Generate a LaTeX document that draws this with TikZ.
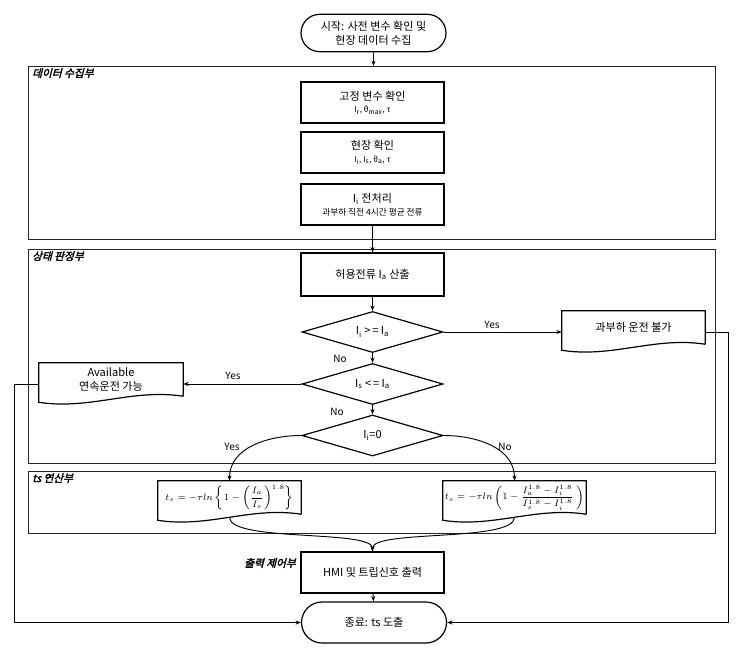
\documentclass[tikz,border=0pt]{standalone}
\usepackage{fontspec}
\setmainfont{Noto Sans CJK KR}
\newfontfamily\grpfont[FakeSlant=0.25,FakeBold=2.5]{Noto Sans CJK KR}
\usetikzlibrary{shapes.geometric,shapes.misc,arrows.meta,calc}
\newcommand{\docwave}[1]{%
  \draw[docline] (#1.south east) -- (#1.north east) -- (#1.north west) -- ([yshift=-4.5pt]#1.south west)
   .. controls ($(#1.south west)!0.35!(#1.south east)+(0,14)$) and ($(#1.south west)!0.65!(#1.south east)+(0,-8)$) .. (#1.south east);}
\begin{document}
\begin{tikzpicture}[x=0.75pt,y=-0.75pt,
  base/.style={font=\fontsize{8.3}{10.5}\selectfont, align=center, inner sep=0pt},
  proc/.style={base, draw, line width=0.9pt, rectangle, minimum width=107.25pt, minimum height=30.75pt},
  term/.style={base, draw, line width=0.9pt, rounded rectangle, minimum width=108.75pt, minimum height=28pt},
  dec/.style={base, draw, line width=0.9pt, diamond, aspect=3.4, minimum width=105.75pt, minimum height=30.75pt},
  docn/.style={base, minimum width=107.25pt, minimum height=24.75pt},
  docline/.style={line width=0.9pt},
  grpbox/.style={draw=black!85, line width=1pt, rectangle, inner sep=0pt, minimum width=515.25pt},
  grplabel/.style={font=\grpfont\fontsize{8}{10}\selectfont, inner sep=0pt},
  lbl/.style={font=\fontsize{7.5}{9}\selectfont, inner sep=0pt},
  arr/.style={line width=0.7pt, -{Stealth[length=4pt,width=3pt]}},
]
\useasboundingbox (0,0) rectangle (745,660);

% groups
\node[grpbox, anchor=north west, minimum height=129.75pt] (g1) at (28,66) {};
\node[grpbox, anchor=north west, minimum height=160.5pt] (g2) at (28,249) {};
\node[grpbox, anchor=north west, minimum height=46.5pt] (g3) at (28,471) {};
\node[grplabel, anchor=north west] (l1) at (32,68) {데이터 수집부};
\node[grplabel, anchor=north west] (l2) at (32,251) {상태 판정부};
\node[grplabel, anchor=north west] (l3) at (32,473) {ts 연산부};
\node[grplabel, anchor=east] (l4) at (296,563) {출력 제어부};

% nodes
\node[term] (start) at (373.5,33) {시작: 사전 변수 확인 및\\현장 데이터 수집};
\node[proc] (A) at (372.5,102.5) {고정 변수 확인\\[-1pt]{\fontsize{6}{7.5}\selectfont I\textsubscript{r}, θ\textsubscript{max}, τ}};
\node[proc] (B) at (372.5,152.5) {현장 확인\\[-1pt]{\fontsize{6}{7.5}\selectfont I\textsubscript{i}, I\textsubscript{s}, θ\textsubscript{a}, τ}};
\node[proc] (C) at (372.5,204.5) {I\textsubscript{i} 전처리\\[-1pt]{\fontsize{6.5}{8}\selectfont 과부하 직전 4시간 평균 전류}};
\node[proc, minimum height=32.25pt] (D) at (372.5,274.5) {허용전류 I\textsubscript{a} 산출};
\node[dec] (d1) at (372.5,332) {I\textsubscript{i} >\,= I\textsubscript{a}};
\node[dec] (d2) at (372.5,384) {I\textsubscript{s} <\,= I\textsubscript{a}};
\node[dec] (d3) at (372.5,435.5) {I\textsubscript{i}=0};
\node[docn] (rdoc) at (633.5,327.5) {과부하 운전 불가};
\node[docn, minimum width=108pt] (ldoc) at (111,379.5) {Available\\연속운전 가능};
\node[docn] (lf) at (229.5,497.5) {\fontsize{7.5}{9}\selectfont$\displaystyle t_s=-\tau ln\left\{1-\left(\frac{I_a}{I_s}\right)^{1.8}\right\}$};
\node[docn] (rf) at (514.5,497.5) {\fontsize{7.5}{9}\selectfont$\displaystyle t_s=-\tau ln\left(1-\frac{I_a^{1.8}-I_i^{1.8}}{I_s^{1.8}-I_i^{1.8}}\ \right)$};
\docwave{rdoc}
\docwave{ldoc}
\docwave{lf}
\docwave{rf}
\node[proc] (hmi) at (372.5,572.5) {HMI 및 트립신호 출력};
\node[term, minimum height=30.75pt] (end) at (374,622.5) {종료: ts 도출};

% connectors
\draw[arr] (start) -- (start.south |- g1.north);
\draw[arr] (C) -- (D);
\draw[arr] (D) -- (d1);
\draw[arr] (d1) -- (d2);
\draw[arr] (d2) -- (d3);
\draw[arr] (d1.east) -- (rdoc.west |- d1.east);
\draw[arr] (d2.west) -- (ldoc.east |- d2.west);
\draw[arr] (d3.west) to[out=180,in=90] (lf.north);
\draw[arr] (d3.east) to[out=0,in=90] (rf.north);
\draw[arr] ($(lf.south)+(0,3)$) .. controls ($(lf.south)+(0,28)$) and ($(hmi.north)+(0,-22)$) .. (hmi.north);
\draw[arr] ($(rf.south)+(0,3)$) .. controls ($(rf.south)+(0,28)$) and ($(hmi.north)+(0,-22)$) .. (hmi.north);
\draw[arr] (hmi) -- (end);
\draw[arr] (rdoc.east |- d1.east) -- ++(23,0) |- (end.east);
\draw[arr] (ldoc.west |- d2.west) -- ++(-24,0) |- (end.west);

% labels
\node[lbl] (no1) at (340,359) {No};
\node[lbl] (no2) at (337,412) {No};
\node[lbl] (yes1) at (492,325) {Yes};
\node[lbl] (yes2) at (233,376) {Yes};
\node[lbl] (yes3) at (232,447) {Yes};
\node[lbl] (no3) at (505,447) {No};
\end{tikzpicture}
\end{document}
